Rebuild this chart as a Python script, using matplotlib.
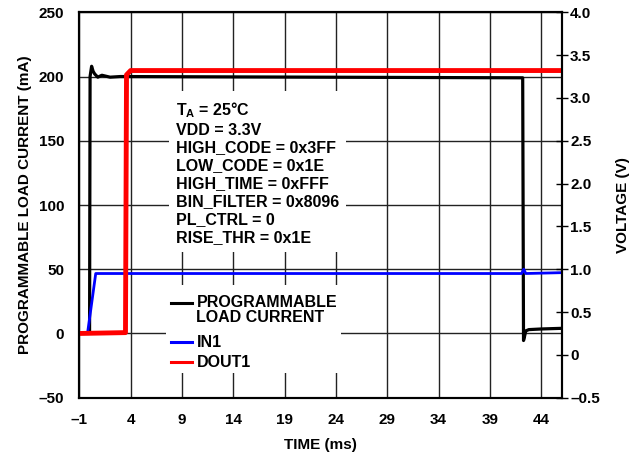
import matplotlib
matplotlib.use("Agg")
import matplotlib.pyplot as plt
import matplotlib.transforms as mtransforms
from matplotlib.legend_handler import HandlerLine2D
from matplotlib.patches import Rectangle

plt.rcParams["font.family"] = ["Liberation Sans", "DejaVu Sans"]
plt.rcParams["font.weight"] = "bold"
plt.rcParams["axes.labelweight"] = "bold"
plt.rcParams["mathtext.fontset"] = "custom"
plt.rcParams["mathtext.rm"] = "Liberation Sans:bold"
plt.rcParams["mathtext.bf"] = "Liberation Sans:bold"

# load current (mA, left axis)
load_t = [-1, 0.0, 0.05, 0.2, 0.35, 0.5, 0.8, 1.2, 2.0, 3.0, 42.2, 42.28, 42.36, 42.5, 42.8, 44.0, 46.0]
load_ma = [0, 0, 200, 208, 204, 202, 199.5, 201, 199.5, 200, 199, -5.5, -3, 2, 3, 3.5, 4]

# IN1 voltage (V, right axis)
in1_t = [-1, -0.2, 0.6, 42.1, 42.3, 42.5, 46.0]
in1_v = [0.25, 0.25, 0.95, 0.95, 1.0, 0.95, 0.96]

# DOUT1 voltage (V, right axis)
dout_t = [-1, 3.5, 3.6, 4.0, 46.0]
dout_v = [0.25, 0.26, 3.27, 3.32, 3.32]

x_ticks = [-1, 4, 9, 14, 19, 24, 29, 34, 39, 44]
left_ticks = [-50, 0, 50, 100, 150, 200, 250]
right_ticks = [-0.5, 0, 0.5, 1.0, 1.5, 2.0, 2.5, 3.0, 3.5, 4.0]

settings = [
    r"T$_\mathregular{A}$ = 25°C",
    "VDD = 3.3V",
    "HIGH_CODE = 0x3FF",
    "LOW_CODE = 0x1E",
    "HIGH_TIME = 0xFFF",
    "BIN_FILTER = 0x8096",
    "PL_CTRL = 0",
    "RISE_THR = 0x1E",
]


class RaisedLine(HandlerLine2D):
    """Legend line lifted to sit beside the first line of a two-line label."""

    def __init__(self, shift, **kw):
        super().__init__(**kw)
        self.shift = shift

    def create_artists(self, legend, orig_handle, xdescent, ydescent,
                       width, height, fontsize, trans):
        arts = super().create_artists(legend, orig_handle, xdescent, ydescent,
                                      width, height, fontsize, trans)
        lift = mtransforms.Affine2D().translate(0, self.shift)
        for a in arts:
            a.set_transform(lift + trans)
        return arts


fs = 11
tfs = 11.5
fig = plt.figure(figsize=(6.29, 4.57), dpi=100)
ax = fig.add_axes([79.3 / 629, 1 - 397.7 / 457, 482.4 / 629, 385.4 / 457])
ax2 = ax.twinx()

ax.set_xlim(-1, 46)
ax.set_ylim(-50, 250)
ax2.set_ylim(-0.5, 4.0)
ax.set_xticks(x_ticks)
ax.set_yticks(left_ticks)
ax2.set_yticks(right_ticks)
ax.set_xticklabels(["–1"] + [str(v) for v in x_ticks[1:]])
ax.set_yticklabels(["–50"] + [str(v) for v in left_ticks[1:]])
ax2.set_yticklabels(["–0.5"] + [f"{v:g}" if v == 0 else f"{v:.1f}" for v in right_ticks[1:]])

ax.grid(True, color="#222222", linewidth=1.0)
ax.set_axisbelow(True)
ax.tick_params(axis="both", length=0, pad=11, labelsize=fs)
ax2.tick_params(axis="y", direction="inout", length=8, width=1.0, pad=2, labelsize=fs)
for a in (ax, ax2):
    for s in a.spines.values():
        s.set_linewidth(1.5)

ax.set_xlabel("TIME (ms)", fontsize=fs, labelpad=8)
ax.set_ylabel("PROGRAMMABLE LOAD CURRENT (mA)", fontsize=fs, labelpad=5)
ax2.set_ylabel("VOLTAGE (V)", fontsize=fs, labelpad=12)

l_load, = ax.plot(load_t, load_ma, color="black", linewidth=2.3, zorder=3,
                  label="PROGRAMMABLE\nLOAD CURRENT")
l_in1, = ax2.plot(in1_t, in1_v, color="#0000ff", linewidth=2.0, label="IN1")
l_dout, = ax2.plot(dout_t, dout_v, color="#ff0000", linewidth=3.5, label="DOUT1")

# test conditions, on a white card that masks the grid
ax.text(0.2, 0.7725, "\n".join(settings), transform=ax.transAxes, fontsize=tfs,
        va="top", ha="left", linespacing=1.24, zorder=4,
        bbox=dict(facecolor="white", edgecolor="none", pad=5))

# white card behind the legend entries
ax.add_patch(Rectangle((0.18, 0.064), 0.3625, 0.228, transform=ax.transAxes,
                       facecolor="white", edgecolor="none", zorder=2.5))

leg_kw = dict(loc="upper left", fontsize=tfs, frameon=False,
              handlelength=1.3, handletextpad=0.3, labelspacing=0.3, borderpad=0.4)
leg1 = ax2.legend(handles=[l_load], bbox_to_anchor=(0.160, 0.303),
                  handler_map={l_load: RaisedLine(5.0)}, **leg_kw)
leg1.get_texts()[0].set_linespacing(0.95)
ax2.add_artist(leg1)
leg2 = ax2.legend(handles=[l_in1, l_dout], bbox_to_anchor=(0.160, 0.199), **leg_kw)
for lg in (leg1, leg2):
    for ln in lg.get_lines():
        ln.set_linewidth(2.2)

fig.savefig("out.png", dpi=100)
